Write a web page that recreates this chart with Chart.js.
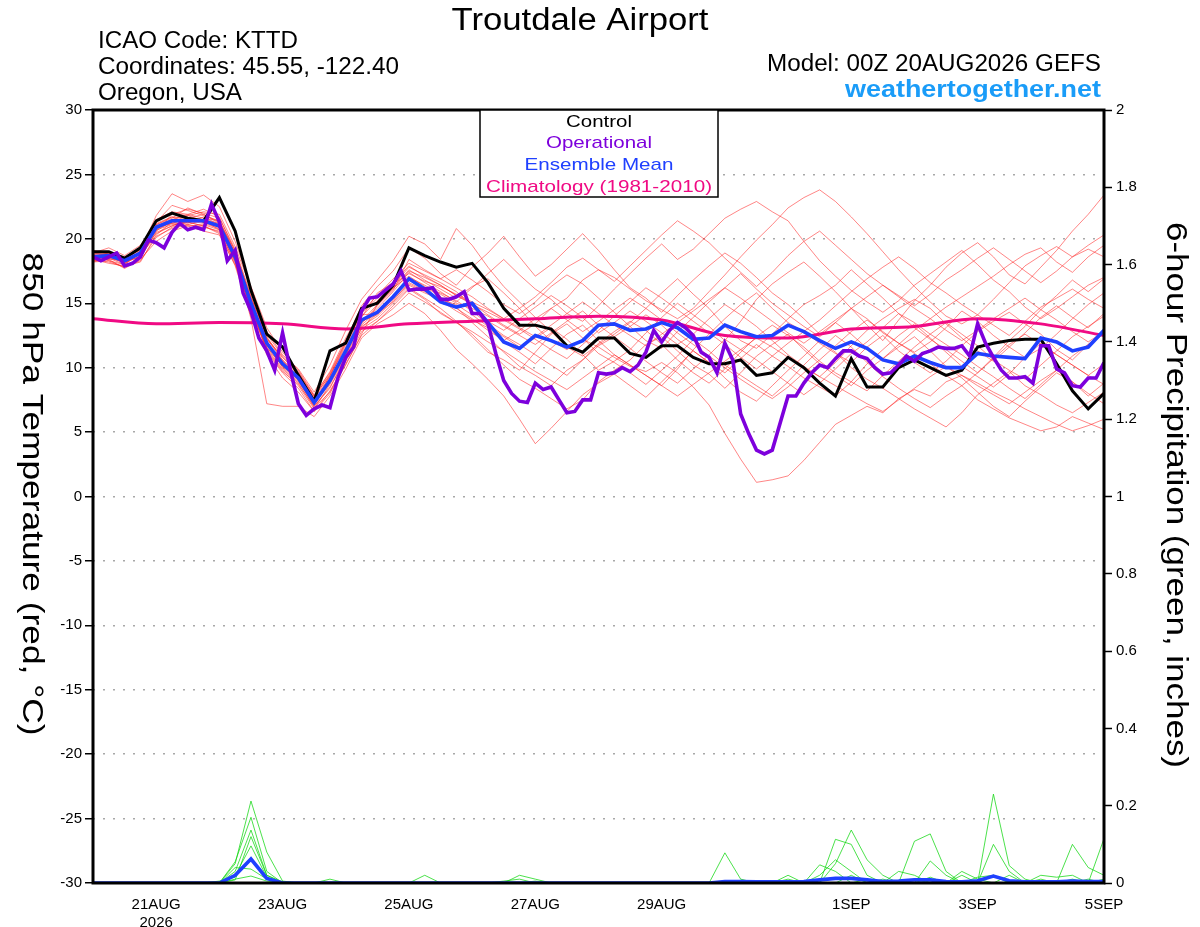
<!DOCTYPE html>
<html><head><meta charset="utf-8">
<script src="https://cdn.jsdelivr.net/npm/chart.js@4.4.1/dist/chart.umd.min.js"></script>
<style>html,body{margin:0;padding:0;background:#fff;}canvas{display:block}</style>
</head><body>
<canvas id="c" width="1200" height="927"></canvas>
<script>
// ---------- DATA ----------
const xTickHours = [24, 72, 120, 168, 216, 288, 336, 384];
const xTickLabels = [["21AUG","2026"], "23AUG", "25AUG", "27AUG", "29AUG", "1SEP", "3SEP", "5SEP"];
const stepHours = 6;      // control / mean / members
const opStepHours = 3;    // operational
const climStepHours = 24; // climatology

const control = [19.0,19.0,18.5,19.3,21.4,22.0,21.6,21.4,23.2,20.6,16.0,12.6,11.6,9.4,7.4,11.3,11.9,14.6,15.0,16.4,19.3,18.7,18.2,
 17.8,18.1,16.6,14.6,13.3,13.3,13.0,11.7,11.2,12.3,12.3,11.1,10.8,11.7,
 11.7,10.8,10.3,10.3,10.6,9.4,9.6,10.8,10.0,8.8,7.8,10.7,8.5,8.5,10.0,
 10.6,10.0,9.4,9.8,11.6,11.9,12.1,12.2,12.2,10.3,8.2,6.8,8.0];

const ensMean = [18.6,18.7,18.3,18.9,20.9,21.4,21.4,21.4,21.0,18.6,15.0,11.9,10.3,9.2,7.3,9.0,11.3,13.7,14.3,15.5,16.9,16.1,15.1,
 14.7,15.0,13.5,12.0,11.5,12.5,12.1,11.6,12.1,13.3,13.4,12.9,13.0,13.5,
 13.1,12.2,12.3,13.3,12.8,12.4,12.5,13.3,12.8,12.1,11.5,12.0,11.5,10.6,10.3,
 10.9,10.4,10.0,10.0,11.1,10.9,10.8,10.7,12.3,12.0,11.3,11.6,12.9];

const operational = [18.6,18.3,18.6,18.9,17.9,18.1,18.6,19.9,19.7,19.3,20.5,21.2,20.7,20.9,20.7,22.7,21.3,18.3,19.1,15.8,14.4,12.3,11.3,9.8,12.7,9.8,7.2,6.3,6.8,7.1,6.9,9.2,10.8,11.6,14.4,15.4,15.5,16.0,16.5,17.5,16.0,16.1,16.1,16.2,15.3,
 15.3,15.5,15.9,14.2,14.2,13.4,11.1,9.0,8.0,7.4,7.3,8.8,8.3,8.5,7.5,6.5,6.6,7.5,7.5,9.6,9.5,9.6,10.0,9.7,10.2,11.2,12.9,12.0,
 12.9,13.5,13.1,12.5,11.2,10.8,9.6,11.9,10.6,6.4,4.9,3.6,3.3,3.6,5.7,7.8,7.8,8.8,9.6,10.2,10.0,10.7,11.3,11.3,10.9,10.7,10.0,9.5,9.6,10.2,
 10.9,10.5,11.1,11.3,11.6,11.5,11.5,11.7,10.9,13.4,11.9,10.8,9.8,9.2,9.2,9.3,8.8,11.7,11.7,9.9,9.6,8.6,8.5,9.2,9.2,10.4];

const climatology = [13.8,13.4,13.5,13.4,13.0,13.4,13.6,13.8,14.0,13.7,12.5,12.3,13.0,13.2,13.8,13.4,12.5];

const member01 = [18.4,18.2,17.8,18.5,20.6,21.9,22.3,22.0,21.6,19.2,15.6,12.4,10.6, 9.0,7.0,8.4,10.9,13.9,15.8,16.6,17.9,17.1,16.4,15.6,15.0,14.1, 13.3,12.6,13.4,14.6,15.4,16.8,17.6,17.0,16.1,15.2,14.5,13.8,14.6, 15.9,17.2,18.6,19.9,21.1,22.4,23.2,23.8,22.9,21.7,20.4,19.0,17.6, 16.3,15.1,14.0,13.4,14.1,15.3,16.6,17.9,18.7,19.4,18.6,19.5,20.3];
const member02 = [18.9,19.3,18.7,19.5,21.3,22.6,22.2,21.8,21.4,18.9,15.1,11.2,9.6, 8.4,6.6,8.2,10.2,12.6,14.9,16.2,17.6,16.8,16.1,15.4,16.3,16.9, 15.8,14.6,13.2,12.1,11.4,12.2,11.6,10.8,10.1,9.7,10.4,9.6,8.5, 7.1,4.9,2.9,1.1,1.3,1.6,2.8,4.2,5.6,6.3,7.0,6.5,7.6, 8.3,7.8,8.9,9.4,8.8,8.1,7.5,6.8,6.2,5.6,5.1,5.5,6.0];
const member03 = [18.2,18.5,18.0,19.1,21.8,23.5,22.9,23.4,22.5,19.8,16.3,13.1,11.2, 9.8,7.9,9.6,12.1,14.8,16.3,17.5,19.3,18.5,17.3,16.4,17.8,18.9, 20.2,18.6,17.1,18.0,19.2,20.4,19.1,17.6,16.2,15.4,14.3,15.6,16.8, 17.9,18.9,18.1,17.0,15.8,14.9,13.8,12.6,13.5,14.6,13.3,12.1,13.7, 15.2,16.4,17.8,18.9,19.7,18.6,17.2,16.5,17.8,19.1,20.6,21.9,23.4];
const member04 = [18.7,18.9,18.4,18.8,20.2,20.8,21.1,20.9,20.6,18.1,14.4,11.5,9.9, 8.8,6.9,8.1,10.5,12.8,13.6,14.8,16.1,15.3,14.2,13.5,12.6,11.4, 10.2,9.1,8.4,7.6,6.8,7.5,8.9,9.8,10.6,11.8,12.4,11.3,10.2, 9.5,8.4,9.6,10.9,11.8,12.6,11.4,10.3,9.4,8.6,9.8,10.7,11.6, 12.4,11.3,10.1,9.2,8.1,7.0,6.2,7.4,8.5,9.6,8.9,7.8,8.8];
const member05 = [18.4,18.6,18.1,18.7,20.9,21.2,21.6,21.9,21.2,18.7,14.9,12.2,10.8, 9.6,7.6,9.3,11.8,14.1,14.2,15.1,16.4,15.8,15.3,14.9,14.1,13.2, 12.4,11.6,12.3,13.1,12.2,11.0,9.8,10.5,11.4,12.7,13.9,15.0,14.1, 13.2,12.1,13.6,15.3,16.5,17.4,18.2,17.1,15.9,14.6,13.8,12.7,11.9, 11.2,12.0,13.1,14.4,13.6,12.5,11.6,10.8,11.5,12.6,13.8,14.9,15.8];
const member06 = [18.8,18.3,18.0,18.9,20.4,21.0,21.4,21.2,20.8,18.3,13.8,7.2,7.0, 7.0,6.2,7.8,9.9,12.3,13.4,14.1,15.0,14.2,12.9,11.4,10.3,9.1, 7.8,6.0,4.1,5.3,6.6,7.9,8.8,9.5,8.6,7.7,8.9,10.1,11.3, 10.4,9.2,8.1,7.4,8.6,9.8,10.9,12.1,11.2,10.0,9.1,8.4,7.6, 6.8,6.1,5.4,6.5,7.9,8.8,9.7,8.6,7.9,7.1,6.5,7.3,8.1];
const member07 = [18.9,18.8,18.5,19.2,21.4,22.0,21.8,22.1,21.9,19.4,16.2,12.8,11.0, 9.9,8.1,10.2,12.9,15.3,16.8,18.3,20.2,19.6,18.4,20.8,19.5,17.8, 16.3,15.1,13.9,12.8,11.6,10.9,11.8,12.6,13.5,14.6,15.8,16.9,15.7, 14.6,13.2,12.1,11.5,12.6,13.8,14.9,15.6,16.4,17.6,16.5,15.4,14.2, 13.1,12.2,11.4,10.5,9.6,10.8,12.1,13.2,14.5,15.6,16.8,15.9,16.9];
const member08 = [18.3,18.4,17.7,18.4,19.8,20.6,21.0,20.6,20.3,18.0,14.6,11.6,10.1, 9.0,7.4,8.9,11.0,13.2,14.0,15.2,16.6,16.0,15.2,14.4,13.7,13.1, 12.0,11.2,10.3,11.5,12.6,13.3,12.1,11.0,10.2,9.4,8.6,9.9,11.4, 12.6,13.8,14.9,15.8,14.6,13.5,12.8,11.9,11.1,10.4,11.6,12.5,11.3, 10.4,9.6,10.5,11.7,12.8,13.6,14.3,13.4,12.6,11.4,10.6,11.8,12.9];
const member09 = [18.6,18.9,18.2,19.0,21.0,21.5,21.9,21.6,21.4,18.8,15.2,12.0,10.4, 9.3,7.5,9.1,11.4,13.5,14.6,15.9,17.4,16.6,15.9,15.1,16.2,17.3, 18.4,17.2,16.1,15.3,14.2,13.6,14.8,16.1,17.3,18.5,19.6,18.4,19.2, 20.4,21.6,22.3,22.9,22.1,21.4,19.8,18.3,17.1,16.0,15.1,14.3,15.2, 16.4,17.3,18.2,19.1,18.0,16.8,15.9,14.7,13.8,14.6,15.5,16.4,17.0];
const member10 = [18.5,18.6,18.3,18.6,20.8,21.3,21.1,21.5,20.9,18.4,14.7,11.4,9.8, 8.6,6.8,8.7,10.9,13.0,13.8,15.0,16.2,15.4,14.6,13.6,12.4,11.2, 10.6,9.8,11.2,12.6,13.4,12.3,11.1,10.4,9.6,8.7,9.8,10.9,12.2, 11.3,10.2,9.4,8.6,7.8,8.9,10.2,11.4,12.5,11.6,10.4,9.3,8.4, 7.6,6.9,7.8,8.6,7.5,6.8,6.1,5.6,5.1,5.4,6.2,5.7,5.2];
const member11 = [19.1,18.9,18.6,19.3,21.2,21.7,21.6,21.3,20.9,18.5,14.9,11.8,10.2, 9.1,7.2,9.4,11.6,14.0,15.2,16.4,17.8,17.2,16.6,15.9,14.8,13.6, 12.9,13.8,14.7,15.6,14.8,13.9,12.7,13.5,14.4,13.6,12.7,11.8,12.6, 13.8,14.9,14.1,13.2,12.1,11.0,10.1,9.3,10.4,11.7,12.9,13.8,14.6, 15.3,14.6,13.4,12.3,11.3,10.5,11.6,12.7,13.9,14.8,13.9,13.1,14.2];
const member12 = [18.4,18.1,17.9,18.2,20.3,21.3,21.8,21.4,20.7,18.6,15.4,12.6,10.9, 9.7,7.8,9.7,12.3,14.5,15.1,16.2,17.1,16.3,15.5,14.7,13.5,12.4, 11.2,10.1,9.4,8.6,9.8,10.6,11.9,12.8,13.6,12.9,11.8,10.6,9.6, 8.8,9.9,11.2,12.4,13.3,12.5,11.6,10.5,9.6,8.9,8.2,9.4,10.5, 11.6,12.6,13.5,12.6,11.7,10.6,9.8,9.1,10.2,11.3,12.4,13.2,14.0];
const member13 = [18.8,18.6,18.4,19.0,21.1,21.6,22.4,21.9,21.3,19.1,15.3,12.1,10.0, 8.9,7.1,8.8,11.1,13.4,14.8,16.0,18.4,17.6,16.9,17.6,16.8,15.9, 14.9,14.2,15.1,16.3,17.2,16.5,15.4,14.3,13.2,12.1,11.5,12.8,13.9, 15.1,16.2,17.3,16.1,15.0,14.1,13.2,12.4,13.5,12.6,11.5,10.7,11.8, 12.9,13.8,14.7,15.5,16.3,17.1,18.0,18.8,19.3,18.2,17.4,18.6,19.5];
const member14 = [18.6,18.5,18.2,18.8,20.7,21.1,21.3,21.0,20.5,18.2,14.8,11.7,10.6, 9.5,7.3,8.9,11.5,13.3,14.4,15.4,16.8,16.2,15.8,15.2,14.4,13.4, 12.5,11.8,11.0,10.2,9.4,10.6,11.7,12.4,13.2,14.1,13.3,12.2,11.3, 10.4,9.6,10.7,11.8,10.9,10.1,9.2,8.5,7.8,8.9,10.3,11.4,12.5, 13.4,12.3,11.2,10.1,9.3,8.5,9.5,10.8,11.9,11.0,10.2,9.4,10.3];
const member15 = [18.3,18.7,18.1,18.9,21.5,22.1,21.9,22.3,21.7,19.0,15.5,12.3,10.5, 9.4,7.7,9.5,12.0,14.2,15.4,16.5,17.3,16.7,16.3,15.7,15.1,14.5, 13.8,14.6,15.5,16.6,17.8,18.5,17.6,16.7,17.9,19.1,20.3,21.4,20.6, 19.7,18.5,17.4,16.3,17.4,18.7,19.8,20.6,19.5,18.4,17.3,16.4,15.6, 14.8,15.7,16.8,17.6,18.5,19.3,18.4,17.5,16.6,17.5,18.6,19.2,18.6];
const member16 = [18.7,18.4,18.5,19.1,20.6,21.4,21.2,21.7,21.1,18.9,15.3,12.0,10.4, 9.2,7.2,9.2,11.2,13.6,14.1,15.6,17.0,16.4,15.7,15.0,14.6,14.0, 13.2,12.5,11.8,12.7,13.6,14.4,13.3,12.4,11.5,10.5,9.6,8.8,9.9, 11.0,12.2,11.4,10.6,9.7,8.8,7.9,8.8,9.9,11.1,12.0,13.1,14.2, 13.5,12.6,11.8,11.0,10.1,9.3,8.4,7.6,8.7,9.8,10.9,11.8,12.6];
const member17 = [18.5,18.8,18.2,18.6,20.5,21.0,21.5,21.3,20.9,18.5,14.6,11.6,10.1, 9.1,7.4,9.0,11.3,13.6,14.9,16.1,17.5,17.0,16.4,15.6,14.9,14.3, 13.7,13.0,12.2,11.4,10.7,11.8,12.9,14.0,15.1,16.2,15.4,14.5,13.6, 12.7,11.8,10.8,9.9,10.9,11.9,12.8,13.7,14.8,15.9,16.9,17.8,18.6, 17.7,16.6,15.8,14.9,14.1,13.3,12.5,13.6,14.7,15.4,16.1,15.3,14.6];
const member18 = [18.9,18.7,18.3,19.0,20.8,21.2,21.0,21.1,20.7,18.3,14.5,11.3,9.7, 8.7,7.0,8.5,10.6,13.1,14.2,15.3,16.5,15.9,15.4,14.6,13.8,12.9, 12.1,12.9,13.8,14.6,13.7,12.8,13.6,14.5,15.4,14.6,13.7,12.7,11.8, 10.9,10.0,9.1,8.3,7.6,8.5,9.6,10.6,11.7,12.8,13.7,12.8,11.9, 11.1,10.3,9.4,8.6,9.6,10.7,11.8,12.6,11.8,11.0,10.2,9.4,8.7];
const member19 = [18.6,18.6,18.5,19.2,21.1,21.7,21.3,21.5,21.2,18.8,15.1,12.3,10.8, 9.6,7.8,9.4,11.9,14.3,15.6,16.9,18.1,17.5,16.9,16.2,15.5,14.6, 13.8,13.1,12.4,13.3,14.2,15.1,14.2,13.3,12.5,11.7,12.6,13.5,14.4, 15.3,16.2,15.4,14.5,13.6,12.7,11.9,12.8,13.7,14.6,15.5,16.4,15.5, 14.6,13.8,12.9,12.1,12.9,13.8,14.6,15.4,14.5,13.7,12.8,12.0,12.8];
const member20 = [18.2,18.3,17.8,18.3,20.1,20.9,21.3,21.0,20.4,17.9,14.0,11.0,9.2, 8.1,6.6,8.0,10.3,12.5,13.6,14.6,15.8,15.1,14.3,13.5,12.8,12.0, 11.3,10.5,9.7,9.0,8.3,9.2,10.1,11.0,10.2,9.4,8.6,7.8,8.7, 9.6,10.5,11.4,12.3,11.6,10.8,10.0,9.3,8.6,7.9,7.2,6.6,7.5, 8.4,9.3,10.1,9.4,8.6,7.9,7.2,8.1,9.0,9.8,8.9,8.0,7.2];
const members = [member01,member02,member03,member04,member05,member06,member07,member08,member09,member10,
                 member11,member12,member13,member14,member15,member16,member17,member18,member19,member20];

const precip01 = [0,0,0,0,0,0,0,0,0,0.05,0.212,0.08,0.005, 0,0,0,0,0,0,0,0,0,0,0,0,0, 0,0,0,0,0,0,0,0,0,0,0,0,0, 0,0.078,0.01,0,0,0,0,0,0.113,0.10,0.02,0,0, 0,0,0,0,0,0.23,0.045,0.01,0,0,0,0,0];
const precip02 = [0,0,0,0,0,0,0,0,0,0.055,0.17,0.03,0, 0,0,0,0,0,0,0,0,0,0,0,0,0, 0,0,0,0,0,0,0,0,0,0,0,0,0, 0,0,0,0,0,0,0,0,0.05,0.137,0.06,0.02,0, 0.108,0.127,0.03,0,0,0,0,0,0,0,0.1,0.04,0.02];
const precip03 = [0,0,0,0,0,0,0,0,0,0.03,0.137,0.02,0, 0,0,0.01,0,0,0,0,0,0,0,0,0,0, 0,0,0,0,0,0,0,0,0,0,0,0,0, 0,0,0,0,0,0.02,0,0.047,0.03,0,0,0,0, 0,0.057,0.02,0,0,0.1,0.03,0,0,0,0,0,0.115];
const precip04 = [0,0,0,0,0,0,0,0,0,0.02,0.096,0.015,0, 0,0,0,0,0,0,0,0,0.02,0,0,0,0, 0,0,0,0,0,0,0,0,0,0,0,0,0, 0,0,0,0,0,0,0,0,0,0,0,0,0.03, 0.02,0,0,0.02,0,0,0,0,0.02,0.015,0.02,0,0];
const precip05 = [0,0,0,0,0,0,0,0,0.005,0.015,0.06,0.01,0, 0,0,0,0,0,0,0,0,0,0,0,0,0, 0,0.02,0.01,0,0,0,0,0,0,0,0,0,0, 0,0,0.007,0.005,0,0,0,0,0,0.02,0,0,0, 0,0,0,0,0.015,0.02,0,0,0,0,0,0,0];
const precip06 = [0,0,0,0,0,0,0,0,0,0.04,0.036,0.01,0, 0,0,0,0,0,0,0,0,0,0,0,0,0, 0.005,0.01,0,0,0,0,0,0,0,0,0,0,0, 0,0,0,0,0,0,0,0.02,0.06,0.03,0,0,0, 0,0.015,0,0,0,0,0.02,0,0,0,0,0.01,0];
const precip07 = [0,0,0,0,0,0,0,0,0,0.01,0.018,0.005,0, 0,0,0,0,0,0,0,0,0,0,0,0,0, 0,0,0,0,0,0,0,0,0,0,0,0,0, 0,0,0,0,0,0.01,0,0,0,0,0,0.01,0, 0,0,0,0.03,0.01,0,0,0,0.01,0,0,0,0.01];
const precip08 = [0,0,0,0,0,0,0,0,0,0.008,0.12,0.02,0.003, 0,0,0,0,0,0,0,0,0,0,0,0,0, 0,0,0.005,0,0,0,0,0,0,0,0,0,0, 0,0,0,0,0,0,0,0,0,0,0.01,0,0, 0.01,0,0,0,0,0.02,0,0,0,0,0.01,0,0];
const precipMembers = [precip01,precip02,precip03,precip04,precip05,precip06,precip07,precip08];
const precipMean = [0,0,0,0,0,0,0,0,0,0.02,0.062,0.012,0, 0,0,0,0,0,0,0,0,0,0,0,0,0, 0,0,0,0,0,0,0,0,0,0,0,0,0, 0,0.004,0.004,0.003,0.003,0.003,0.004,0.008,0.012,0.012,0.008,0.004,0.005, 0.008,0.008,0.004,0.003,0.006,0.018,0.006,0.003,0.003,0.003,0.005,0.004,0.004];

// ---------- BUILD ----------
const toXY = (arr, step) => arr.map((v, i) => ({x: i * step, y: v}));
const FONT = '"Liberation Sans", Arial, Helvetica, sans-serif';

const datasets = [];
datasets.push({label:'Operational', data: toXY(operational, opStepHours), borderColor:'#7d00dc', borderWidth:3.6, yAxisID:'y', order:0});
datasets.push({label:'Ensemble Mean', data: toXY(ensMean, stepHours), borderColor:'#1f40ff', borderWidth:3.6, yAxisID:'y', order:1});
datasets.push({label:'Control', data: toXY(control, stepHours), borderColor:'#000000', borderWidth:3, yAxisID:'y', order:2});
datasets.push({label:'Climatology', data: toXY(climatology, climStepHours), borderColor:'#f00a84', borderWidth:3, yAxisID:'y', order:3, tension:0.4, cubicInterpolationMode:'monotone'});
datasets.push({label:'PrecipMean', data: toXY(precipMean, stepHours), borderColor:'#1f40ff', borderWidth:3.6, yAxisID:'y1', order:4});
members.forEach((m, k) => datasets.push({label:'m'+k, data: toXY(m, stepHours), borderColor:'rgba(255,30,30,0.6)', borderWidth:0.9, yAxisID:'y', order:10}));
precipMembers.forEach((m, k) => datasets.push({label:'p'+k, data: toXY(m, stepHours), borderColor:'rgba(20,215,20,0.85)', borderWidth:0.9, yAxisID:'y1', order:11}));

function fitText(ctx, txt, x, y, size, width, align, color, weight, rot, baseline) {
  ctx.save();
  ctx.font = (weight || 'normal') + ' ' + size + 'px ' + FONT;
  ctx.fillStyle = color;
  const w = ctx.measureText(txt).width;
  const sx = width ? width / w : 1;
  ctx.translate(x, y);
  if (rot) ctx.rotate(rot);
  ctx.scale(sx, 1);
  ctx.textAlign = align;
  ctx.textBaseline = baseline || 'alphabetic';
  ctx.fillText(txt, 0, 0);
  ctx.restore();
}

const decor = {
  id: 'decor',
  afterDatasetsDraw(chart) {
    const ctx = chart.ctx, a = chart.chartArea;
    // frame
    ctx.save();
    ctx.strokeStyle = '#000'; ctx.lineWidth = 3;
    ctx.strokeRect(a.left, a.top, a.right - a.left, a.bottom - a.top);
    // legend box
    ctx.fillStyle = '#fff';
    ctx.fillRect(480, a.top, 238, 87);
    ctx.lineWidth = 1.5;
    ctx.strokeRect(480, a.top, 238, 87);
    ctx.restore();
    fitText(ctx, 'Control', 599, 127, 17, 66, 'center', '#000');
    fitText(ctx, 'Operational', 599, 148, 17, 106, 'center', '#7d00dc');
    fitText(ctx, 'Ensemble Mean', 599, 170, 17, 149, 'center', '#1f40ff');
    fitText(ctx, 'Climatology (1981-2010)', 599, 192, 17, 226, 'center', '#f00a84');
    // header
    fitText(ctx, 'Troutdale Airport', 580, 30, 31, 257, 'center', '#000');
    fitText(ctx, 'ICAO Code: KTTD', 98, 48, 23, 200, 'left', '#000');
    fitText(ctx, 'Coordinates: 45.55, -122.40', 98, 74, 23, 301, 'left', '#000');
    fitText(ctx, 'Oregon, USA', 98, 100, 23, 144, 'left', '#000');
    fitText(ctx, 'Model: 00Z 20AUG2026 GEFS', 1101, 71, 23, 334, 'right', '#000');
    fitText(ctx, 'weathertogether.net', 1101, 97, 24, 256, 'right', '#1a9cf8', 'bold');
    // axis titles
    fitText(ctx, '850 hPa Temperature (red, \u00B0C)', 31, 494, 30, 483, 'center', '#000', 'normal', Math.PI/2, 'middle');
    fitText(ctx, '6-hour Precipitation (green, inches)', 1175, 495, 30, 546, 'center', '#000', 'normal', Math.PI/2, 'middle');
  }
};

Chart.defaults.font.family = FONT;
Chart.defaults.color = '#000';

new Chart(document.getElementById('c'), {
  type: 'line',
  data: { datasets },
  options: {
    responsive: false, animation: false, devicePixelRatio: 1,
    layout: { padding: { top: 110, left: 0, right: 0, bottom: 0 } },
    elements: { point: { radius: 0 }, line: { tension: 0, fill: false } },
    plugins: { legend: { display: false }, tooltip: { enabled: false }, title: { display: false } },
    scales: {
      x: {
        type: 'linear', min: 0, max: 384,
        grid: { display: false },
        border: { display: false },
        afterBuildTicks: s => { s.ticks = xTickHours.map(v => ({ value: v })); },
        afterFit: s => { s.height = 44; },
        ticks: {
          autoSkip: false, maxRotation: 0, padding: 5,
          font: { size: 15 },
          callback: v => { const k = xTickHours.indexOf(v); return k >= 0 ? xTickLabels[k] : ''; }
        }
      },
      y: {
        type: 'linear', position: 'left', min: -30, max: 30,
        afterFit: s => { s.width = 93; },
        grid: { color: '#a8a8a8', lineWidth: 1.5, tickLength: 8, tickColor: '#000', tickWidth: 1.5 },
        border: { display: false, dash: [2, 8] },
        ticks: { stepSize: 5, padding: 3, font: { size: 15 }, callback: v => String(v) }
      },
      y1: {
        type: 'linear', position: 'right', min: 0, max: 2,
        afterFit: s => { s.width = 96; },
        grid: { drawOnChartArea: false, tickLength: 8, tickColor: '#000', tickWidth: 1.5 },
        border: { display: false },
        ticks: { stepSize: 0.2, padding: 4, font: { size: 15 }, callback: v => String(Math.round(v * 10) / 10) }
      }
    }
  },
  plugins: [decor]
});
</script>
</body></html>
